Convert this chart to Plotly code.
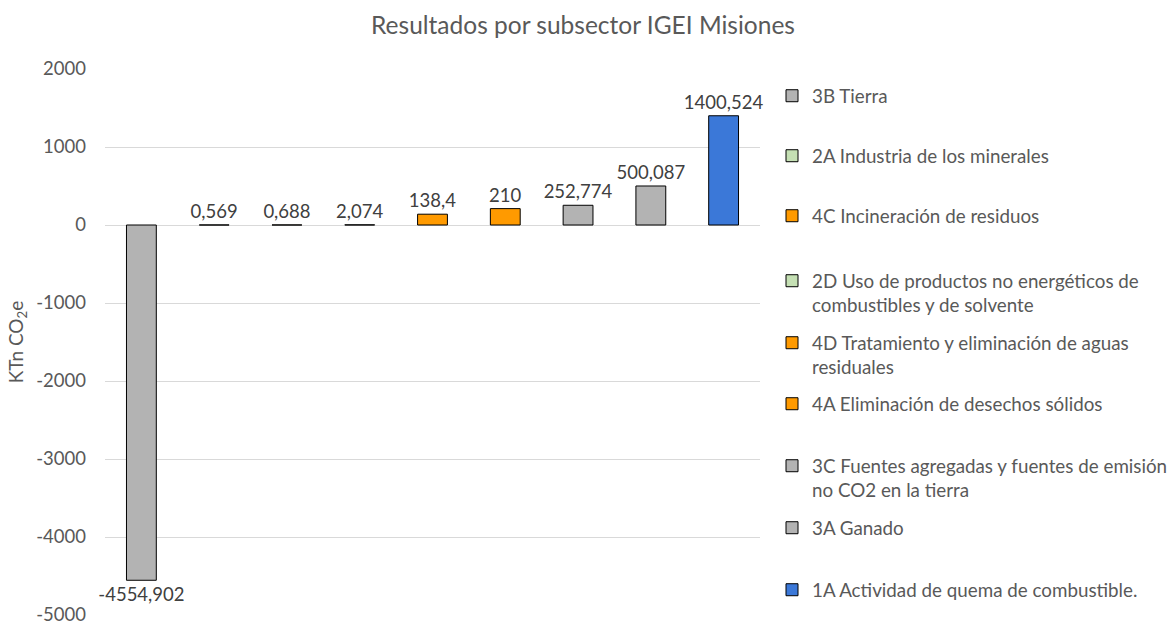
import plotly.graph_objects as go

categories = [
    "3B Tierra",
    "2A Industria de los minerales",
    "4C Incineración de residuos",
    "2D Uso de productos no energéticos de<br>combustibles y de solvente",
    "4D Tratamiento y eliminación de aguas<br>residuales",
    "4A Eliminación de desechos sólidos",
    "3C Fuentes agregadas y fuentes de emisión<br>no CO2 en la tierra",
    "3A Ganado",
    "1A Actividad de quema de combustible.",
]
values = [-4554.902, 0.569, 0.688, 2.074, 138.4, 210, 252.774, 500.087, 1400.524]
colors = ["#B3B3B3", "#C5E0B4", "#FF9A00", "#C5E0B4", "#FF9A00", "#FF9A00",
          "#B3B3B3", "#B3B3B3", "#3B78D8"]
tick_values = [-5000, -4000, -3000, -2000, -1000, 0, 1000, 2000]
tick_labels = ["-5000", "-4000", "-3000", "-2000", "-1000", "0", "1000", "2000"]
# legend item centre positions (pixels from top)
legend_centers_px = [96, 156, 216, 293, 355, 404, 478, 528, 590]

FONT = "Lato"
W, H = 1176, 626
L, R, T, B = 105, 416, 69, 11
plot_h = H - T - B
plot_w = W - L - R


def fmt(v):
    s = repr(float(v))
    if s.endswith(".0"):
        s = s[:-2]
    return s.replace(".", ",")


fig = go.Figure()
layout_legends = {}
for i, (cat, val, col, cy) in enumerate(zip(categories, values, colors, legend_centers_px)):
    key = "legend" if i == 0 else f"legend{i+1}"
    fig.add_trace(go.Bar(
        x=[i], y=[val], name=cat,
        marker=dict(color=col, line=dict(color="#000000", width=1)),
        width=0.41,
        text=[fmt(val)], textposition="outside", cliponaxis=False,
        constraintext="none",
        textfont=dict(family=FONT, size=18.5, color="#404040"),
        legend=key,
    ))
    layout_legends[key] = dict(
        x=(772 - L) / plot_w, xanchor="left",
        y=(H - B - cy) / plot_h, yanchor="middle",
        font=dict(family=FONT, size=18.8, color="#595959"),
        bgcolor="rgba(0,0,0,0)", valign="top", itemwidth=30,
    )

fig.update_layout(
    width=W, height=H,
    margin=dict(l=L, r=R, t=T, b=B, autoexpand=False),
    plot_bgcolor="white", paper_bgcolor="white",
    title=dict(text="Resultados por subsector IGEI Misiones", x=583 / W, xanchor="center",
               y=1 - 25 / H, yanchor="middle",
               font=dict(family=FONT, size=24.5, color="#595959")),
    showlegend=True,
    **layout_legends,
)
fig.update_xaxes(range=[-0.5, len(categories) - 0.5], showticklabels=False, showgrid=False,
                 zeroline=False, showline=False)
fig.update_yaxes(range=[-5000, 2000], tickvals=tick_values, ticktext=tick_labels,
                 showgrid=True, gridcolor="#D9D9D9", gridwidth=1,
                 zeroline=True, zerolinecolor="#D9D9D9", zerolinewidth=1,
                 tickfont=dict(family=FONT, size=18.5, color="#595959"),
                 ticks="", ticklen=0, ticklabelstandoff=18,
                 title=dict(text="KTn CO<sub>2</sub>e", standoff=7,
                            font=dict(family=FONT, size=19, color="#595959")))

fig.write_html("out.html", config={"displayModeBar": False},
               post_script="document.body.style.margin='0';document.body.style.overflow='hidden';")
